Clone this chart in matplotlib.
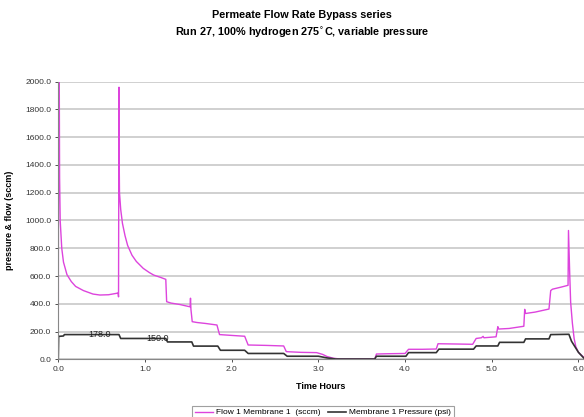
import matplotlib.pyplot as plt

plt.rcParams['font.family'] = ['Liberation Sans', 'DejaVu Sans']

# Flow 1 Membrane 1 (sccm)
flow_t = [0.000, 0.003, 0.007, 0.011, 0.015, 0.022, 0.040, 0.060, 0.100, 0.150,
          0.200, 0.290, 0.400, 0.480, 0.580, 0.670, 0.690, 0.695, 0.700, 0.703,
          0.706, 0.720, 0.740, 0.770, 0.800, 0.850, 0.900, 0.980, 1.050, 1.100,
          1.180, 1.240, 1.250, 1.300, 1.400, 1.520, 1.525, 1.530, 1.545, 1.600,
          1.700, 1.830, 1.860, 2.000, 2.150, 2.190, 2.400, 2.600, 2.630, 2.800,
          2.980, 3.050, 3.100, 3.170, 3.250, 3.650, 3.670, 3.800, 4.000, 4.040,
          4.200, 4.360, 4.380, 4.600, 4.780, 4.820, 4.880, 4.900, 4.910, 5.050,
          5.070, 5.080, 5.200, 5.370, 5.380, 5.390, 5.500, 5.660, 5.680, 5.700,
          5.800, 5.880, 5.885, 5.900, 5.910, 5.930, 5.950, 5.970, 6.000, 6.060]
flow_v = [0, 2050, 1400, 2050, 1310, 1000, 800, 700, 610, 560,
          525, 495, 470, 463, 465, 475, 478, 450, 1960, 1400,
          1200, 1080, 980, 890, 820, 750, 705, 655, 625, 607,
          590, 576, 415, 405, 395, 378, 440, 360, 271, 265,
          258, 247, 178, 172, 166, 103, 100, 96, 55, 50,
          48, 35, 20, 8, 2, 2, 38, 40, 42, 72,
          72, 74, 112, 110, 108, 150, 155, 165, 155, 162,
          235, 218, 222, 238, 360, 330, 340, 362, 495, 505,
          520, 533, 928, 600, 410, 260, 150, 90, 50, 15]

# Membrane 1 Pressure (psi)
pres_t = [0.000, 0.004, 0.060, 0.070, 0.700, 0.720, 1.240, 1.260, 1.540, 1.560,
          1.840, 1.870, 2.150, 2.190, 2.600, 2.640, 3.000, 3.100, 3.200, 3.650,
          3.670, 4.010, 4.040, 4.360, 4.390, 4.790, 4.820, 5.070, 5.090, 5.370,
          5.390, 5.660, 5.680, 5.890, 5.920, 5.960, 6.000, 6.060]
pres_v = [0, 165, 168, 178, 178, 150, 150, 125, 125, 95,
          95, 65, 65, 42, 42, 22, 22, 10, 2, 2,
          22, 22, 48, 48, 73, 73, 96, 96, 122, 122,
          147, 147, 178, 180, 130, 90, 50, 10]

# data labels on the pressure series
label_t = [0.48, 1.14]
label_v = [178.0, 150.0]

fig = plt.figure(figsize=(5.84, 4.17), dpi=100)
ax = fig.add_axes([0.0998, 0.1384, 0.9002, 0.6657])

ax.plot(flow_t, flow_v, color='#dd44dd', lw=1.0, label='Flow 1 Membrane 1  (sccm)')
ax.plot(pres_t, pres_v, color='#333333', lw=1.2, label='Membrane 1 Pressure (psi)')
for t, v in zip(label_t, label_v):
    ax.text(t, v, '%.1f' % v, fontsize=6.5, ha='center', va='center', color='#222222')

ax.set_xlim(0, 6.064)
ax.set_ylim(0, 2000)
ax.set_xticks(range(0, 7))
ax.set_xticklabels(['%.1f' % x for x in range(0, 7)])
ax.set_yticks(range(0, 2001, 200))
ax.set_yticklabels(['%.1f' % y for y in range(0, 2001, 200)])
ax.tick_params(labelsize=6, length=2.5, width=0.6, pad=2.5, colors='#333333')
ax.grid(axis='y', color='#c8c8c8', lw=1.2)
ax.set_axisbelow(True)
for s in ['top', 'right']:
    ax.spines[s].set_visible(False)
ax.spines['left'].set_color('#888888')
ax.spines['bottom'].set_color('#888888')

ax.set_xlabel('Time Hours', fontsize=6.5, fontweight='bold', labelpad=6)
ax.set_ylabel('pressure & flow (sccm)', fontsize=6.5, fontweight='bold', labelpad=8)

fig.text(0.517, 0.963, 'Permeate Flow Rate Bypass series', ha='center', va='center',
         fontsize=7.8, fontweight='bold')
fig.text(0.517, 0.921, 'Run 27, 100% hydrogen 275$^{\\circ}$C, variable pressure',
         ha='center', va='center', fontsize=7.8, fontweight='bold')

leg = fig.legend(loc='upper center', bbox_to_anchor=(0.553, 0.036), ncol=2,
                 fontsize=6, frameon=True, fancybox=False, borderpad=0.3,
                 handlelength=2.2, columnspacing=0.8, handletextpad=0.4)
leg.get_frame().set_edgecolor('#888888')
leg.get_frame().set_linewidth(0.8)

fig.savefig('out.png', dpi=100)
